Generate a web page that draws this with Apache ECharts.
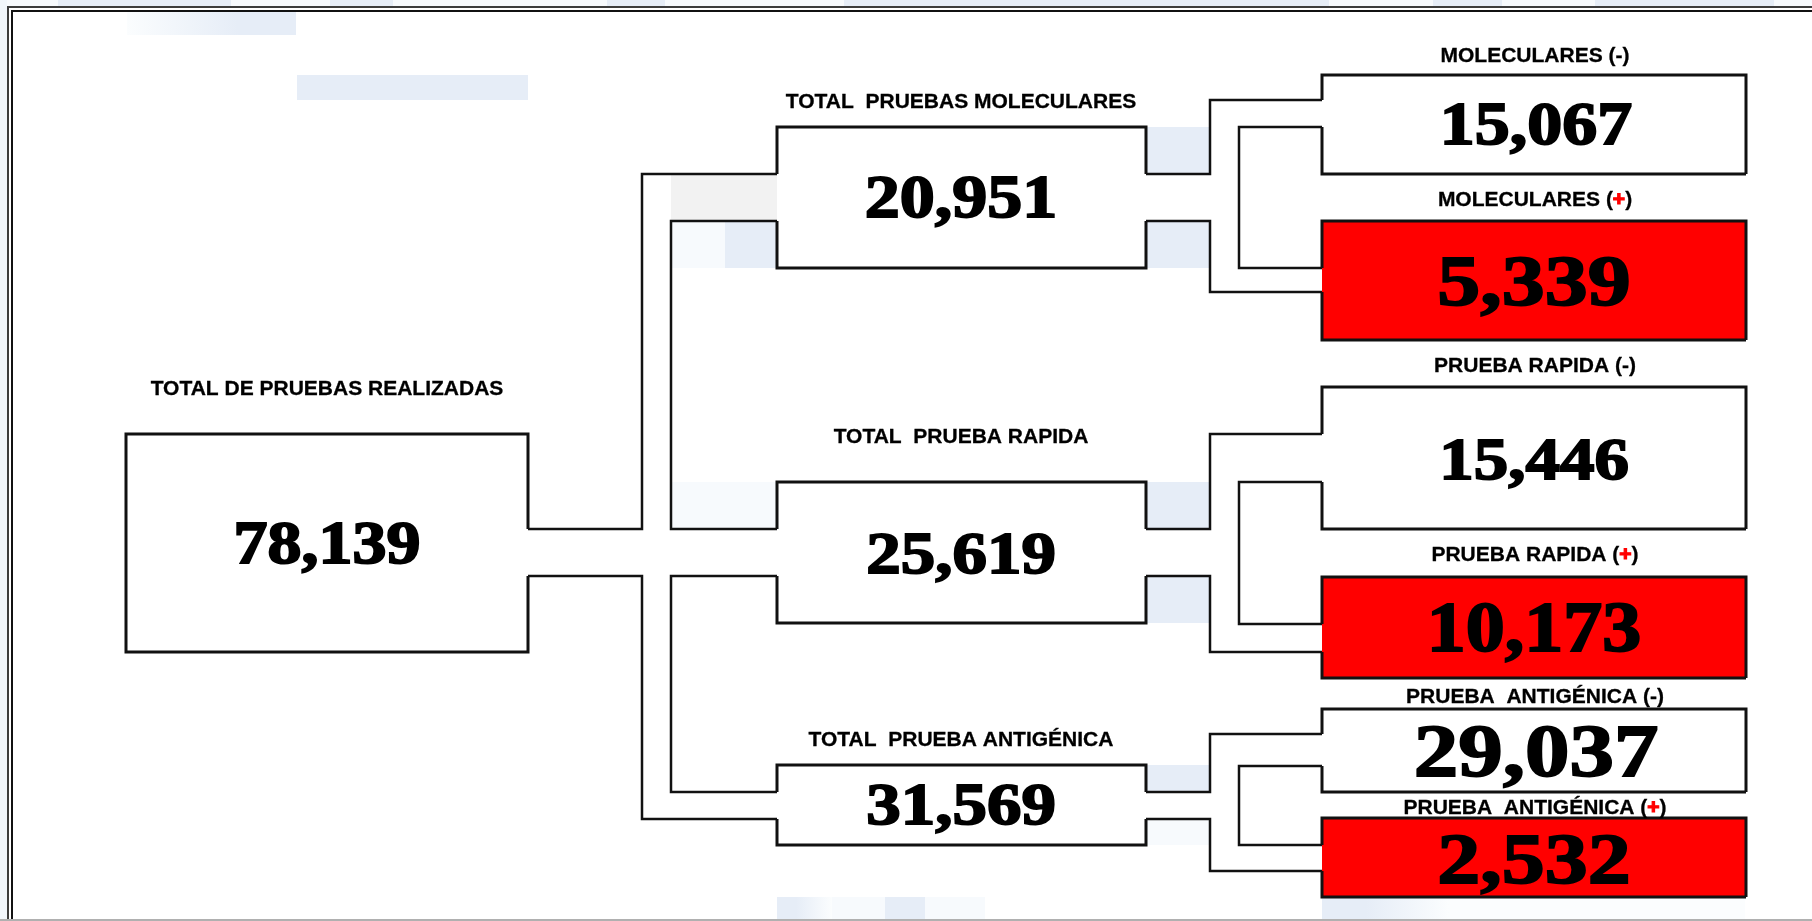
<!DOCTYPE html>
<html>
<head>
<meta charset="utf-8">
<title>Pruebas realizadas</title>
<script src="https://cdn.jsdelivr.net/npm/echarts@6/dist/echarts.min.js"></script>
<style>
    html, body { margin: 0; padding: 0; background: #fff; }
    #main { width: 1812px; height: 921px; }
</style>
</head>
<body>
<div id="main"></div>
<script>
var rootLabel = 'TOTAL DE PRUEBAS REALIZADAS';
var rootValue = 78139;
var typeLabels = ['TOTAL  PRUEBAS MOLECULARES', 'TOTAL  PRUEBA RAPIDA', 'TOTAL  PRUEBA ANTIGÉNICA'];
var typeValues = [20951, 25619, 31569];
var resultLabels = ['MOLECULARES (-)', 'MOLECULARES ({r|+})', 'PRUEBA RAPIDA (-)', 'PRUEBA RAPIDA ({r|+})', 'PRUEBA  ANTIGÉNICA (-)', 'PRUEBA  ANTIGÉNICA ({r|+})'];
var resultValues = [15067, 5339, 15446, 10173, 29037, 2532];

// maqueta del diagrama, en pixeles de la pagina (sy: aplastado vertical de las cifras)
var rootBox = {x0: 126, x1: 528, top: 434, bottom: 652, out: [529, 576], lx: 327, ly: 389, vx: 327, vy: 547, size: 68, sy: 0.9};
var typeBoxes = [
    {x0: 777, x1: 1146, top: 127, bottom: 268, port: [174, 221], lx: 961, ly: 102, vx: 961, vy: 201, size: 70, sy: 0.87},
    {x0: 777, x1: 1146, top: 482, bottom: 623, port: [529, 576], lx: 961, ly: 437, vx: 961, vy: 557, size: 69, sy: 0.87},
    {x0: 777, x1: 1146, top: 765, bottom: 845, port: [792, 819], lx: 961, ly: 740, vx: 961, vy: 809, size: 69, sy: 0.86}
];
var resultBoxes = [
    {x0: 1322, x1: 1746, top: 75, bottom: 174, port: [100, 127], lx: 1535, ly: 56, vx: 1536, vy: 128, size: 70, sy: 0.87},
    {x0: 1322, x1: 1746, top: 221, bottom: 340, port: [268, 292], lx: 1535, ly: 200, vx: 1534, vy: 286, size: 86, sy: 0.84, red: true},
    {x0: 1322, x1: 1746, top: 387, bottom: 529, port: [434, 482], lx: 1535, ly: 366, vx: 1534, vy: 463, size: 69, sy: 0.87},
    {x0: 1322, x1: 1746, top: 577, bottom: 678, port: [624, 652], lx: 1535, ly: 555, vx: 1534, vy: 632, size: 78, sy: 0.92, red: true},
    {x0: 1322, x1: 1746, top: 709, bottom: 792, port: [734, 766], lx: 1535, ly: 697, vx: 1536, vy: 757, size: 89, sy: 0.82},
    {x0: 1322, x1: 1746, top: 818, bottom: 897, port: [845, 871], lx: 1535, ly: 808, vx: 1534, vy: 865, size: 86, sy: 0.83, red: true}
];

// restos de la marca de agua: x0, y0, x1, y1, color
var blue = '#e6edf7', pale = '#f7fafd';
function fade(x, y, x2, y2) {
    return new echarts.graphic.LinearGradient(x, y, x2, y2, [{offset: 0, color: blue}, {offset: 0.35, color: blue}, {offset: 1, color: '#fbfdfe'}]);
}
var patches = [
    [0, 0, 1812, 6, pale], [0, 0, 7, 921, '#f1f6fb'],
    [58, 0, 231, 6, blue], [330, 0, 393, 6, blue], [607, 0, 665, 6, blue], [844, 0, 1329, 6, blue],
    [1433, 0, 1502, 6, blue], [1595, 0, 1774, 6, blue],
    [127, 12, 296, 35, fade(1, 0, 0, 1)], [297, 75, 528, 100, blue],
    [671, 174, 777, 221, '#f2f2f2'], [671, 221, 725, 268, pale], [725, 221, 777, 268, blue],
    [1146, 127, 1210, 174, blue], [1146, 221, 1210, 268, blue],
    [671, 482, 777, 529, pale], [1146, 482, 1210, 529, blue], [1146, 577, 1210, 623, blue],
    [1146, 765, 1210, 792, blue], [1146, 819, 1210, 845, pale],
    [777, 897, 832, 920, fade(0, 0, 1, 0)], [832, 897, 885, 920, pale], [885, 897, 925, 920, blue], [925, 897, 985, 920, pale],
    [1322, 897, 1745, 920, fade(0, 0, 0.3, 0)]
];

// marco doble y linea inferior: puntos, grosor, color
var frameLines = [
    {pts: [[8, 921], [8, 7], [1812, 7]], w: 2, color: '#3c3c3c'},
    {pts: [[12, 921], [12, 11], [1812, 11]], w: 2, color: '#111'},
    {pts: [[0, 920], [1812, 920]], w: 2, color: '#b0b0b0'}
];

var busOuterA = 642, busInnerA = 671, busOuterB = 1210, busInnerB = 1239;

// une una caja madre con sus hijas, cada una con dos entradas en su borde izquierdo
function buildConnectors(parentRight, out, children, outer, inner) {
    var last = children[children.length - 1];
    var lines = [
        [[parentRight, out[0]], [outer, out[0]], [outer, children[0].port[0]], [children[0].x0, children[0].port[0]]],
        [[parentRight, out[1]], [outer, out[1]], [outer, last.port[1]], [last.x0, last.port[1]]]
    ];
    for (var i = 0; i < children.length - 1; i++) {
        var a = children[i], b = children[i + 1];
        lines.push([[a.x0, a.port[1]], [inner, a.port[1]], [inner, b.port[0]], [b.x0, b.port[0]]]);
    }
    return lines;
}

var connectors = buildConnectors(rootBox.x1, rootBox.out, typeBoxes, busOuterA, busInnerA);
typeBoxes.forEach(function (box, i) {
    connectors = connectors.concat(buildConnectors(box.x1, box.port, resultBoxes.slice(i * 2, i * 2 + 2), busOuterB, busInnerB));
});

var nodes = [];
nodes.push(Object.assign({label: rootLabel, value: rootValue, isRoot: true}, rootBox));
typeBoxes.forEach(function (box, i) {
    nodes.push(Object.assign({label: typeLabels[i], value: typeValues[i]}, box));
});
resultBoxes.forEach(function (box, i) {
    nodes.push(Object.assign({label: resultLabels[i], value: resultValues[i], isLeaf: true}, box));
});

function polyline(api, pts, w, color) {
    return {
        type: 'polyline',
        shape: {points: pts.map(function (p) { return api.coord(p); })},
        style: {fill: null, stroke: color, lineWidth: w, lineJoin: 'miter'}
    };
}

function renderPatch(params, api) {
    var p = patches[api.value(0)];
    var a = api.coord([p[0], p[1]]), b = api.coord([p[2], p[3]]);
    return {type: 'rect', shape: {x: a[0], y: a[1], width: b[0] - a[0], height: b[1] - a[1]}, style: {fill: p[4]}};
}

function renderFrame(params, api) {
    var f = frameLines[api.value(0)];
    return polyline(api, f.pts, f.w, f.color);
}

function renderConnector(params, api) {
    return polyline(api, connectors[api.value(0)], 2.5, '#111');
}

function renderNode(params, api) {
    var n = nodes[api.value(0)];
    var a = api.coord([n.x0, n.top]), b = api.coord([n.x1, n.bottom]);
    var children = [{
        type: 'rect',
        shape: {x: a[0], y: a[1], width: b[0] - a[0], height: b[1] - a[1]},
        style: {fill: n.red ? '#ff0000' : '#ffffff'}
    }];
    var ink = '#111';
    if (n.isRoot) {
        children.push(polyline(api, [[n.x1, n.out[0]], [n.x1, n.top], [n.x0, n.top], [n.x0, n.bottom], [n.x1, n.bottom], [n.x1, n.out[1]]], 3, ink));
    } else {
        // borde superior e inferior con los cortes donde entran los conectores
        children.push(polyline(api, [[n.x0, n.port[0]], [n.x0, n.top], [n.x1, n.top], n.isLeaf ? [n.x1, n.bottom] : [n.x1, n.port[0]]], 3, ink));
        if (n.isLeaf) {
            children.push(polyline(api, [[n.x1, n.bottom], [n.x0, n.bottom], [n.x0, n.port[1]]], 3, ink));
        } else {
            children.push(polyline(api, [[n.x1, n.port[1]], [n.x1, n.bottom], [n.x0, n.bottom], [n.x0, n.port[1]]], 3, ink));
        }
    }
    var lp = api.coord([n.lx, n.ly]), vp = api.coord([n.vx, n.vy]);
    children.push({
        type: 'text',
        style: {
            x: lp[0], y: lp[1], text: n.label, align: 'center', verticalAlign: 'middle',
            fill: '#000', stroke: '#000', lineWidth: 0.3,
            font: 'bold 21px "Liberation Sans", Arial, sans-serif',
            rich: {r: {fill: '#ff0000', stroke: '#ff0000', lineWidth: 1.2, font: 'bold 21px "Liberation Sans", Arial, sans-serif'}}
        }
    });
    children.push({
        type: 'text',
        originX: vp[0],
        originY: vp[1],
        scaleY: n.sy,
        style: {
            x: vp[0], y: vp[1], text: n.value.toLocaleString('en-US'), align: 'center', verticalAlign: 'middle',
            fill: '#000', stroke: '#000', lineWidth: 2.2,
            font: 'bold ' + n.size + 'px "Liberation Serif", "Times New Roman", serif'
        }
    });
    return {type: 'group', children: children};
}

function indexData(list) {
    return list.map(function (d, i) { return [i]; });
}

function customSeries(name, list, render) {
    return {
        name: name,
        type: 'custom',
        coordinateSystem: 'cartesian2d',
        renderItem: render,
        data: indexData(list),
        encode: {x: 0},
        clip: false,
        silent: true
    };
}

var myChart = echarts.init(document.getElementById('main'), null, {renderer: 'canvas'});

var option = {
    animation: false,
    backgroundColor: '#ffffff',
    tooltip: {show: false},
    grid: {left: 0, right: 0, top: 0, bottom: 0},
    xAxis: {type: 'value', min: 0, max: 1812, show: false},
    yAxis: {type: 'value', min: 0, max: 921, inverse: true, show: false},
    series: [
        customSeries('fondo', patches, renderPatch),
        customSeries('marco', frameLines, renderFrame),
        customSeries('conectores', connectors, renderConnector),
        customSeries('cajas', nodes, renderNode)
    ]
};

window.onresize = myChart.resize;
myChart.setOption(option);
</script>
</body>
</html>
